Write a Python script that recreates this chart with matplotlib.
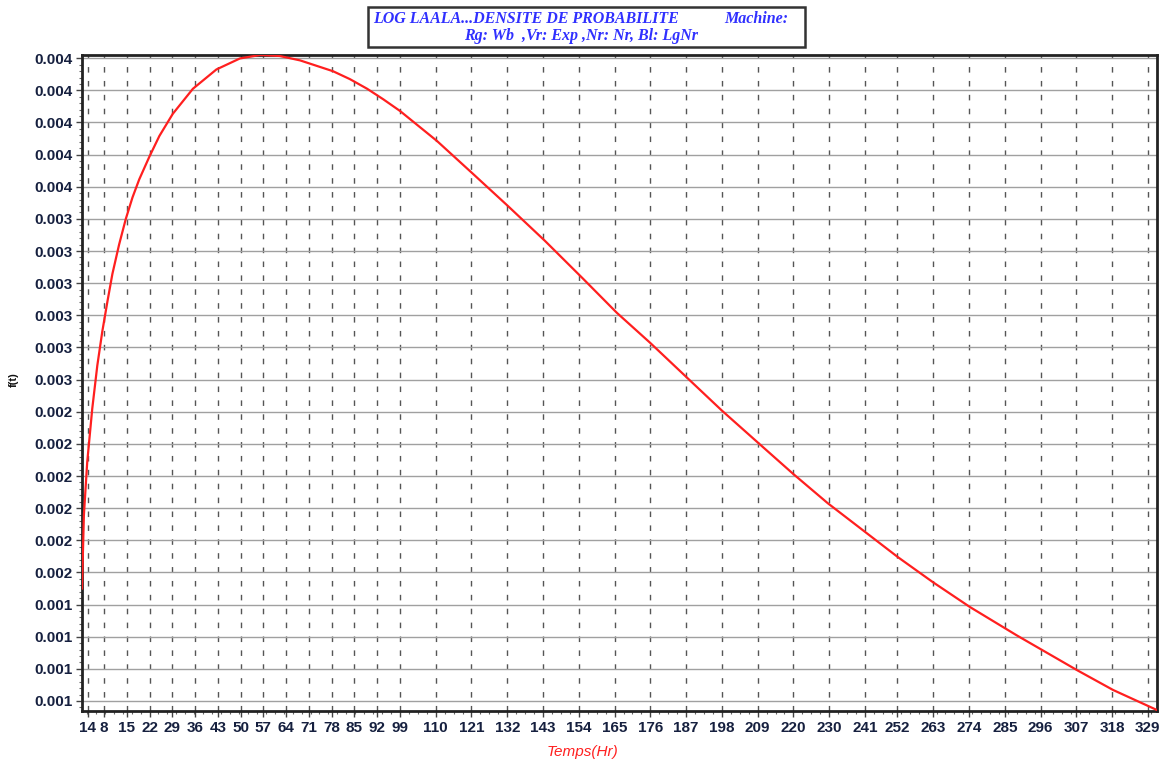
"""
Densite de probabilite f(t) - loi log-normale (LOG LAALA).
"""

import matplotlib
matplotlib.use("Agg")
import matplotlib.pyplot as plt
import numpy as np
from matplotlib.patches import Rectangle
from matplotlib.ticker import MultipleLocator, AutoMinorLocator

# curve
temps = [1.23, 1.81, 2.84, 4.39, 5.94, 7.48, 9.03, 10.58, 12.64, 14.7, 16.77,
         18.83, 21.93, 25.02, 29.15, 35.34, 42.56, 49.78, 55.97, 62.0, 68.3,
         78.4, 83.6, 88.9, 93.9, 99.0, 110.4, 121.5, 132.2, 143.6, 155.3, 165.7,
         175.9, 188.2, 198.0, 209.4, 219.9, 230.6, 241.4, 252.2, 262.9, 274.3,
         288.7, 307.2, 318.3, 331.8]
densite = [0.001483, 0.001863, 0.002140, 0.002417, 0.002640, 0.002817, 0.002970,
           0.003115, 0.003267, 0.003400, 0.003512, 0.003605, 0.003722, 0.003830,
           0.003945, 0.004075, 0.004175, 0.004232, 0.004250, 0.004245, 0.004222,
           0.004166, 0.004125, 0.004075, 0.004020, 0.003960, 0.003804, 0.003633,
           0.003467, 0.003286, 0.003090, 0.002913, 0.002758, 0.002562, 0.002406,
           0.002235, 0.002078, 0.001925, 0.001785, 0.001645, 0.001516, 0.001387,
           0.001240, 0.001060, 0.000957, 0.000853]

x_tick_labels = ["14", "8", "15", "22", "29", "36", "43", "50", "57", "64", "71",
                 "78", "85", "92", "99", "110", "121", "132", "143", "154", "165",
                 "176", "187", "198", "209", "220", "230", "241", "252", "263",
                 "274", "285", "296", "307", "318", "329"]
x_tick_pos = [3.0, 8, 15, 22, 29, 36, 43, 50, 57, 64, 71, 78, 85, 92, 99, 110,
              121, 132, 143, 154, 165, 176, 187, 198, 209, 220, 231, 242, 252,
              263, 274, 285, 296, 307, 318, 329]

y_tick_labels = ["0.001"] * 4 + ["0.002"] * 6 + ["0.003"] * 6 + ["0.004"] * 5
y_tick_pos = np.linspace(0.0009, 0.0042333, 21)

TICK_COLOR = "#16203f"


def main() -> None:
    fig = plt.figure(figsize=(11.68, 7.67), dpi=100)
    ax = fig.add_axes([82 / 1168, 1 - 711 / 767, (1157 - 82) / 1168, (711 - 55) / 767])

    ax.plot(temps, densite, color="#ff1f1f", lw=1.6, zorder=3)

    ax.set_xlim(1.23, 331.8)
    ax.set_ylim(0.000848, 0.00425)

    ax.set_xticks(x_tick_pos)
    ax.set_xticklabels(x_tick_labels)
    ax.set_yticks(y_tick_pos)
    ax.set_yticklabels(y_tick_labels)
    ax.xaxis.set_minor_locator(MultipleLocator(2.75))
    ax.yaxis.set_minor_locator(AutoMinorLocator(5))

    for lab in ax.get_xticklabels() + ax.get_yticklabels():
        lab.set_family("Liberation Sans")
        lab.set_fontsize(11)
        lab.set_fontweight("bold")
        lab.set_color(TICK_COLOR)

    ax.tick_params(which="major", direction="out", length=4, width=1, color="#444444", pad=3)
    ax.tick_params(which="minor", direction="out", length=2.5, width=0.8, color="#666666")

    ax.grid(axis="y", which="major", color="#a0a0a0", lw=1.0, ls="-")
    ax.grid(axis="x", which="major", color="#555555", lw=1.0, ls=(0, (4, 6)))
    ax.set_axisbelow(True)

    for spine in ax.spines.values():
        spine.set_linewidth(2.0)
        spine.set_color("#222222")

    fig.text(583 / 1168, 1 - 752 / 767, "Temps(Hr)", color="#ff2020", fontsize=11,
             style="italic", family="Liberation Sans", ha="center", va="center")
    fig.text(14 / 1168, 1 - 380 / 767, "f(t)", rotation=90, fontsize=8, fontweight="bold",
             family="Liberation Sans", ha="center", va="center", color="#111111")

    # title box
    fig.patches.append(Rectangle((368 / 1168, 1 - 47 / 767), (805 - 368) / 1168, 40 / 767,
                                 transform=fig.transFigure, facecolor="white",
                                 edgecolor="#333333", lw=1.8))
    title_font = dict(family="Liberation Serif", style="italic", fontweight="bold",
                      color="#3030ff", fontsize=11.5, va="center")
    fig.text(373 / 1168, 1 - 19 / 767, "LOG LAALA...DENSITE DE PROBABILITE", ha="left", **title_font)
    fig.text(788 / 1168, 1 - 19 / 767, "Machine:", ha="right", **title_font)
    fig.text(581 / 1168, 1 - 35.5 / 767, "Rg: Wb  ,Vr: Exp ,Nr: Nr, Bl: LgNr", ha="center", **title_font)

    fig.savefig("out.png", dpi=100)


if __name__ == "__main__":
    main()
